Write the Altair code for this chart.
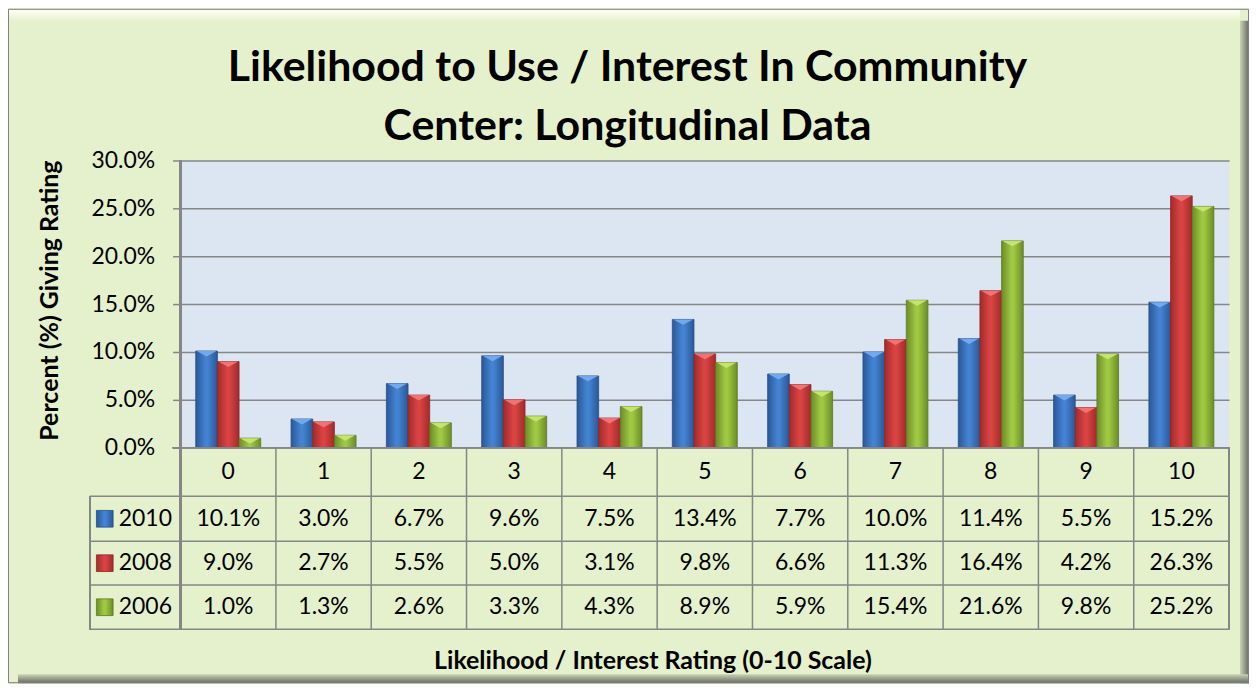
import altair as alt
import pandas as pd

# ---------------- data ----------------
cats = [str(i) for i in range(11)]
years = ["2010", "2008", "2006"]
v2010 = [10.1, 3.0, 6.7, 9.6, 7.5, 13.4, 7.7, 10.0, 11.4, 5.5, 15.2]
v2008 = [9.0, 2.7, 5.5, 5.0, 3.1, 9.8, 6.6, 11.3, 16.4, 4.2, 26.3]
v2006 = [1.0, 1.3, 2.6, 3.3, 4.3, 8.9, 5.9, 15.4, 21.6, 9.8, 25.2]
y_ticks = [0, 5, 10, 15, 20, 25, 30]
title_lines = ["Likelihood to Use / Interest In Community", "Center: Longitudinal Data"]
y_title = "Percent (%) Giving Rating"
x_title = "Likelihood / Interest Rating (0-10 Scale)"

# ---------------- layout / style ----------------
W, H = 1051, 470          # plot + table area
PLOT_H = 288              # bar area height
TABLE_H = H - PLOT_H
row_edges = [0, 48.7, 93.7, 137.7, TABLE_H]
PAD_L, PAD_T, PAD_R, PAD_B = 173, 152, 20, 54
FONT = "Lato"
BG = "#E5F0CC"
PLOT_BG = "#DCE6F2"
LINE = "#868686"
TXT = 23
AX_TITLE = 25

def hgrad(edge, mid):
    return {"gradient": "linear", "x1": 0, "y1": 0, "x2": 1, "y2": 0,
            "stops": [{"offset": 0, "color": edge}, {"offset": 0.45, "color": mid},
                      {"offset": 0.55, "color": mid}, {"offset": 1, "color": edge}]}

fills = {
    "2010": hgrad("#2B5897", "#4383D2"),
    "2008": hgrad("#A32A2A", "#D94343"),
    "2006": hgrad("#6C8C28", "#A0C943"),
}
strokes = {"2010": "#274F86", "2008": "#8E2424", "2006": "#5E7A22"}
caps = {"2010": "#78AEF0", "2008": "#F27A7A", "2006": "#CBE872"}

series = {"2010": v2010, "2008": v2008, "2006": v2006}
bars_df = pd.DataFrame([{"cat": c, "year": y, "value": v}
                        for y in years for c, v in zip(cats, series[y])])

cells = []
for c in cats:
    cells.append({"cat": c, "row": 0, "text": c})
for ri, y in enumerate(years, start=1):
    for c, v in zip(cats, series[y]):
        cells.append({"cat": c, "row": ri, "text": f"{v:.1f}%"})
cells_df = pd.DataFrame(cells)
cells_df["ymid"] = [(row_edges[r] + row_edges[r + 1]) / 2 for r in cells_df["row"]]

legend_df = pd.DataFrame({"year": years,
                          "ymid": [(row_edges[i] + row_edges[i + 1]) / 2 for i in (1, 2, 3)]})
hlines_df = pd.DataFrame({"edge": row_edges[1:]})
vlines_df = pd.DataFrame({"cat": cats[1:]})

# ---------------- scales / axes ----------------
x_axis = alt.Axis(title=x_title, labels=False, ticks=False, domain=False, grid=False,
                  titleX=473, titleY=39, titleBaseline="alphabetic", titleAlign="center",
                  titleFont=FONT, titleFontSize=AX_TITLE, titleFontWeight="bold", titleColor="black")
x_scale = alt.Scale(domain=cats, paddingInner=0, paddingOuter=0)

def X(**kw):
    return alt.X("cat:N", sort=cats, scale=x_scale, axis=x_axis, **kw)

y_scale = alt.Scale(domain=[0, 30], range=[PLOT_H, 0], nice=False, zero=True)
y_axis = alt.Axis(values=y_ticks, labelExpr="format(datum.value, '.1f') + '%'",
                  grid=True, gridColor=LINE, gridWidth=1.5, domain=False,
                  ticks=True, tickSize=8, tickColor=LINE, tickWidth=1.5,
                  labelPadding=18, labelFont=FONT, labelFontSize=TXT, labelColor="black",
                  title=y_title, titleX=-123, titleY=140, titleAngle=-90,
                  titleBaseline="alphabetic", titleAlign="center",
                  titleFont=FONT, titleFontSize=AX_TITLE, titleFontWeight="bold", titleColor="black")
ty_scale = alt.Scale(domain=[0, TABLE_H], range=[PLOT_H, H], nice=False, zero=False)
xo = alt.XOffset("year:N", sort=years,
                 scale=alt.Scale(domain=years, paddingInner=0, paddingOuter=0.7))

base = alt.Chart(bars_df)

# ---------------- bar group ----------------
bar_layers = []
for y in years:
    sub = base.transform_filter(alt.datum.year == y)
    bar_layers.append(
        sub.mark_bar(fill=fills[y], stroke=strokes[y], strokeWidth=0.8)
        .encode(x=X(), xOffset=xo, y=alt.Y("value:Q", scale=y_scale, axis=y_axis))
    )
    bar_layers.append(
        sub.mark_point(shape="M-0.92,0L0.92,0L0,0.5Z", size=470, filled=True,
                       fill=caps[y], opacity=0.9, strokeWidth=0)
        .encode(x=X(), xOffset=xo, y=alt.Y("value:Q", scale=y_scale, axis=y_axis))
    )
bar_group = alt.layer(*bar_layers)

# ---------------- table group ----------------
table_bg = alt.Chart(cells_df).mark_rect(color=BG).encode(
    x=alt.value(0), x2=alt.value(W),
    y=alt.Y(datum=0, scale=ty_scale, axis=None), y2=alt.Y2(datum=TABLE_H))

cell_text = alt.Chart(cells_df).mark_text(font=FONT, fontSize=TXT, color="black",
                                          baseline="middle").encode(
    x=X(), y=alt.Y("ymid:Q", scale=ty_scale, axis=None), text="text:N")

hlines = alt.Chart(hlines_df).mark_rule(color=LINE, strokeWidth=1.5).encode(
    x=alt.value(-91), x2=alt.value(W), y=alt.Y("edge:Q", scale=ty_scale, axis=None))

top_line = alt.Chart(hlines_df).mark_rule(color=LINE, strokeWidth=1.5).encode(
    x=alt.value(-8), x2=alt.value(W), y=alt.Y(datum=0, scale=ty_scale, axis=None))

vlines = alt.Chart(vlines_df).mark_rule(color=LINE, strokeWidth=1.5).encode(
    x=X(bandPosition=0), y=alt.Y(datum=0, scale=ty_scale, axis=None), y2=alt.Y2(datum=TABLE_H))

edge_lines = alt.Chart(vlines_df).mark_rule(color=LINE, strokeWidth=2).encode(
    x=alt.value(0), y=alt.value(0), y2=alt.value(H))
right_line = alt.Chart(vlines_df).mark_rule(color=LINE, strokeWidth=1.5).encode(
    x=alt.value(W), y=alt.Y(datum=0, scale=ty_scale, axis=None), y2=alt.Y2(datum=TABLE_H))
legend_left = alt.Chart(vlines_df).mark_rule(color=LINE, strokeWidth=1.5).encode(
    x=alt.value(-91), y=alt.Y(datum=row_edges[1], scale=ty_scale, axis=None),
    y2=alt.Y2(datum=TABLE_H))

legend_layers = []
for y in years:
    legend_layers.append(
        alt.Chart(legend_df).transform_filter(alt.datum.year == y)
        .mark_square(fill=fills[y], stroke=strokes[y], strokeWidth=0.8, opacity=1, size=280)
        .encode(x=alt.value(-76), y=alt.Y("ymid:Q", scale=ty_scale, axis=None))
    )
legend_text = alt.Chart(legend_df).mark_text(font=FONT, fontSize=TXT, color="black",
                                             align="left", baseline="middle").encode(
    x=alt.value(-62), y=alt.Y("ymid:Q", scale=ty_scale, axis=None), text="year:N")

table_group = alt.layer(table_bg, hlines, top_line, vlines, edge_lines, right_line,
                        legend_left, cell_text, *legend_layers, legend_text)

# ---------------- title + frame decorations ----------------
title_df = pd.DataFrame({"line": title_lines, "k": [0, 1]})
title_marks = alt.Chart(title_df).mark_text(font=FONT, fontSize=43, fontWeight="bold",
                                            color="black", align="center",
                                            baseline="alphabetic").encode(
    x=alt.value(448), y=alt.Y("k:Q", scale=alt.Scale(domain=[0, 1], range=[-80, -20]), axis=None),
    text="line:N")

FR_X0, FR_X1 = -PAD_L, W + PAD_R
FR_Y0, FR_Y1 = -PAD_T, H + PAD_B
frame_df = pd.DataFrame({"k": [0]})
right_strip = alt.Chart(frame_df).mark_rect(fill={
    "gradient": "linear", "x1": 0, "y1": 0, "x2": 1, "y2": 0,
    "stops": [{"offset": 0, "color": "#C9D2B6"}, {"offset": 1, "color": "#66695F"}]}).encode(
    x=alt.value(FR_X1 - 9), x2=alt.value(FR_X1), y=alt.value(FR_Y0 + 12), y2=alt.value(FR_Y1))
bottom_strip = alt.Chart(frame_df).mark_rect(fill={
    "gradient": "linear", "x1": 0, "y1": 0, "x2": 0, "y2": 1,
    "stops": [{"offset": 0, "color": "#C9D2B6"}, {"offset": 1, "color": "#66695F"}]}).encode(
    x=alt.value(FR_X0 + 10), x2=alt.value(FR_X1), y=alt.value(FR_Y1 - 9), y2=alt.value(FR_Y1))
top_strip = alt.Chart(frame_df).mark_rect(fill={
    "gradient": "linear", "x1": 0, "y1": 0, "x2": 0, "y2": 1,
    "stops": [{"offset": 0, "color": "#FFFFF4"}, {"offset": 1, "color": BG}]}).encode(
    x=alt.value(FR_X0 + 1), x2=alt.value(FR_X1 - 9), y=alt.value(FR_Y0 + 1), y2=alt.value(FR_Y0 + 13))
frame = alt.Chart(frame_df).mark_rect(fillOpacity=0, stroke="#7F7F7F", strokeWidth=1).encode(
    x=alt.value(FR_X0 + 0.5), x2=alt.value(FR_X1 - 0.5),
    y=alt.value(FR_Y0 + 0.5), y2=alt.value(FR_Y1 - 0.5))

deco = alt.layer(top_strip, right_strip, bottom_strip, frame, title_marks)

chart = alt.layer(bar_group, table_group, deco).resolve_scale(y="independent").properties(
    width=W, height=H,
    autosize=alt.AutoSizeParams(type="none"),
    padding={"left": PAD_L, "top": PAD_T, "right": PAD_R, "bottom": PAD_B},
    background=BG,
).configure_view(fill=PLOT_BG, stroke=None)

chart.save("out.html", embed_options={"renderer": "svg", "actions": False})
